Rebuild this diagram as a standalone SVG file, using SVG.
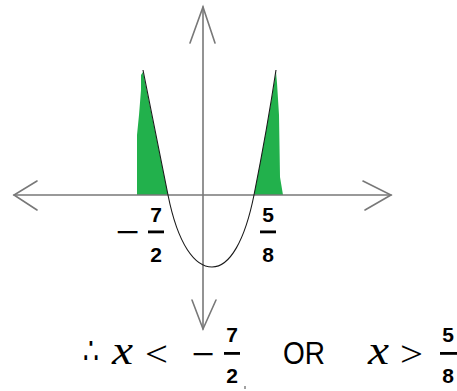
<svg xmlns="http://www.w3.org/2000/svg" width="457" height="391" viewBox="0 0 457 391">
<style>
.ax{stroke:#787878;stroke-width:1.6;fill:none;stroke-linecap:round}
.crv{stroke:#1a1a1a;stroke-width:1.1;fill:none}
.fill{fill:#22b14c}
.num{font-family:"Liberation Sans",Arial,sans-serif;font-size:21px;font-weight:bold;fill:#000;text-anchor:middle}
.big{font-family:"Liberation Sans",Arial,sans-serif;font-size:31px;fill:#000}
.mx{font-family:"Liberation Serif","Times New Roman",serif;font-style:italic;font-size:39px;fill:#000}
.op{font-family:"Liberation Serif","Times New Roman",serif;font-size:36px;fill:#000}
.dots{font-family:"DejaVu Sans",sans-serif;font-size:38px;fill:#000}
.bar{fill:#000}
</style>
<rect width="457" height="391" fill="#fff"/>
<g id="shading">
<path class="fill" d="M137,195 L137,135 L139,115 L141,90 L141,75 L143,72 L168,195 Z"/>
<path class="fill" d="M254,195 C262,155 270,110 276,72 L277,83 L279,115 L280,177 L283,195 Z"/>
</g>
<g id="axes">
<line class="ax" x1="14" y1="195" x2="391" y2="195"/>
<polyline class="ax" points="37,181 14,195 37,210"/>
<polyline class="ax" points="363,181 391,195 365,210"/>
<line class="ax" x1="203" y1="7" x2="203" y2="329"/>
<polyline class="ax" points="190,43 203,7 215,43"/>
<polyline class="ax" points="192,300 203,329 216,300"/>
</g>
<g id="parabola">
<path class="crv" d="M143,70 L168,195 C178,245 195,267 212,267 C230,267 245,240 254,195 C262,155 270,110 276,70"/>
</g>
<g id="label-left">
<text class="num" x="127.5" y="239" textLength="23" lengthAdjust="spacingAndGlyphs">−</text>
<text class="num" x="156" y="222">7</text>
<rect class="bar" x="148" y="230.5" width="16" height="2.8"/>
<text class="num" x="156" y="262">2</text>
</g>
<g id="label-right">
<text class="num" x="268" y="222">5</text>
<rect class="bar" x="260" y="230.5" width="16" height="2.8"/>
<text class="num" x="268" y="262">8</text>
</g>
<g id="answer">
<text class="dots" x="83" y="364" textLength="16" lengthAdjust="spacingAndGlyphs">∴</text>
<text class="mx" x="112" y="364" textLength="21" lengthAdjust="spacingAndGlyphs">x</text>
<text class="op" x="145" y="366" textLength="23" lengthAdjust="spacingAndGlyphs">&lt;</text>
<text class="num" x="203" y="361" textLength="22" lengthAdjust="spacingAndGlyphs">−</text>
<text class="num" x="232" y="342">7</text>
<rect class="bar" x="224" y="352" width="16" height="2.8"/>
<text class="num" x="232" y="383">2</text>
<line x1="245" y1="386" x2="245" y2="389" stroke="#444" stroke-width="1"/>
<text class="big" x="283" y="364" textLength="42" lengthAdjust="spacingAndGlyphs">OR</text>
<text class="mx" x="368" y="364" textLength="21" lengthAdjust="spacingAndGlyphs">x</text>
<text class="op" x="400" y="366" textLength="23" lengthAdjust="spacingAndGlyphs">&gt;</text>
<text class="num" x="448" y="342">5</text>
<rect class="bar" x="440" y="352" width="17" height="2.8"/>
<text class="num" x="448" y="383">8</text>
</g>
</svg>
